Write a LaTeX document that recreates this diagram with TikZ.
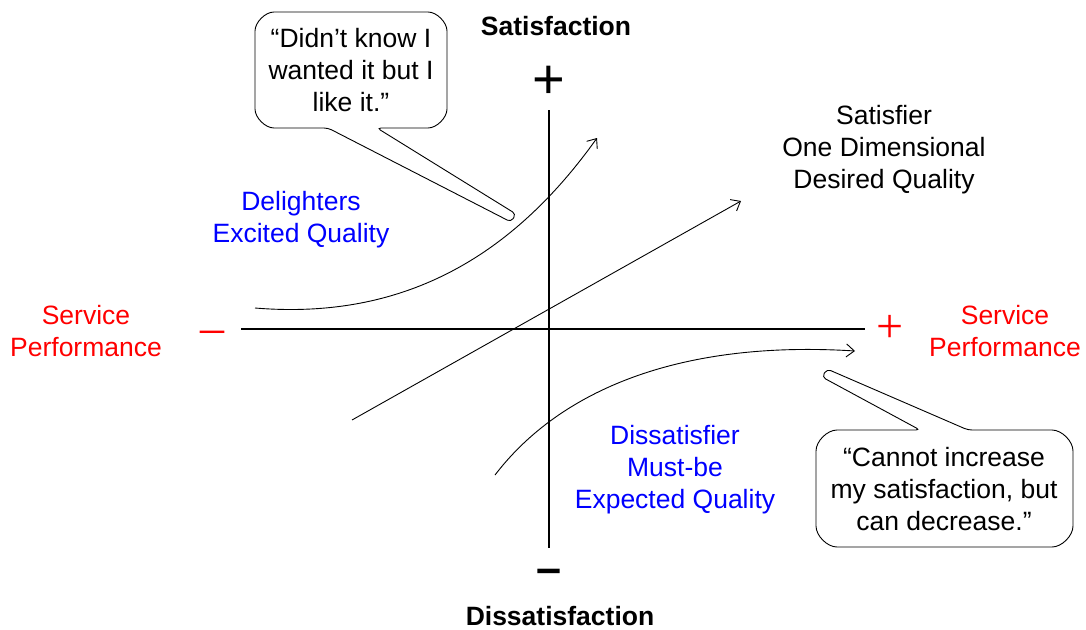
\documentclass[tikz,border=0pt]{standalone}
\usepackage{fontspec}
\setmainfont{Liberation Sans}
\newfontfamily\signfont{Liberation Serif}
\usepackage{tikz}
\usetikzlibrary{arrows.meta}
\definecolor{kanoblue}{HTML}{0000FF}
\definecolor{kanored}{HTML}{FF0000}

\begin{document}
\begin{tikzpicture}[x=1pt, y=1pt, font=\fontsize{26.5}{32}\selectfont,
  lbl/.style={align=center, inner sep=0pt},
  axisline/.style={line width=2.4pt},
  arr/.style={-{Straight Barb[length=8pt,width=13pt]}, line width=0.9pt},
  bubble/.style={draw, fill=white, line width=0.9pt, rounded corners=4pt}]
\useasboundingbox (0,0) rectangle (1086,-629);
% axes
\coordinate (xl) at (241,-329); \coordinate (xr) at (865,-329);
\coordinate (yt) at (549,-110); \coordinate (yb) at (549,-548);
\draw[axisline] (xl) -- (xr);
\draw[axisline] (yt) -- (yb);
\node[lbl, font=\fontsize{56}{56}\selectfont] (plusY) at (549,-82) {+};
\node[lbl, font=\fontsize{45}{45}\selectfont\bfseries] (minusY) at (549,-576) {–};
\node[lbl, text=kanored, font=\fontsize{48}{48}\selectfont\signfont] (minusX) at (212,-337) {–};
\node[lbl, text=kanored, font=\fontsize{48}{48}\selectfont\signfont] (plusX) at (890,-329) {+};
\node[lbl, font=\fontsize{26.5}{32}\selectfont\bfseries] (sat) at (556,-26) {Satisfaction};
\node[lbl, font=\fontsize{26.5}{32}\selectfont\bfseries] (dissat) at (560,-616) {Dissatisfaction};
\node[lbl, text=kanored] (perfL) at (86,-331) {Service\\Performance};
\node[lbl, text=kanored] (perfR) at (1005,-331) {Service\\Performance};
% curves
\coordinate (delS) at (255,-308); \coordinate (delE) at (597,-138);
\coordinate (odS) at (352,-420); \coordinate (odE) at (741,-201);
\coordinate (mbS) at (495,-475); \coordinate (mbE) at (855,-351);
\draw[arr] (delS) .. controls (400,-320) and (510,-260) .. (delE);
\draw[arr] (odS) -- (odE);
\draw[arr] (mbS) .. controls (560,-390) and (680,-340) .. (mbE);
\node[lbl] (oned) at (884,-150) {Satisfier\\One Dimensional\\Desired Quality};
\node[lbl, text=kanoblue] (excite) at (301,-220) {Delighters\\Excited Quality};
\node[lbl, text=kanoblue] (mustbe) at (675,-470) {Dissatisfier\\Must-be\\Expected Quality};
% callouts
\draw[bubble] (377,-128) -- (516,-214) -- (511,-222) -- (328,-128) -- (278,-128)
  arc[start angle=270, end angle=180, radius=23] -- (255,-35)
  arc[start angle=180, end angle=90, radius=23] -- (424,-12)
  arc[start angle=90, end angle=0, radius=23] -- (447,-105)
  arc[start angle=0, end angle=-90, radius=23] -- cycle;
\node[lbl] (quoteA) at (351,-70) {“Didn’t know I\\wanted it but I\\like it.”};
\draw[bubble] (920,-430) -- (822,-377) -- (827,-369) -- (968,-430) -- (1048,-430)
  arc[start angle=90, end angle=0, radius=25] -- (1073,-522)
  arc[start angle=0, end angle=-90, radius=25] -- (841,-547)
  arc[start angle=270, end angle=180, radius=25] -- (816,-455)
  arc[start angle=180, end angle=90, radius=25] -- cycle;
\node[lbl] (quoteB) at (944,-489) {“Cannot increase\\my satisfaction, but\\can decrease.”};
\end{tikzpicture}
\end{document}
